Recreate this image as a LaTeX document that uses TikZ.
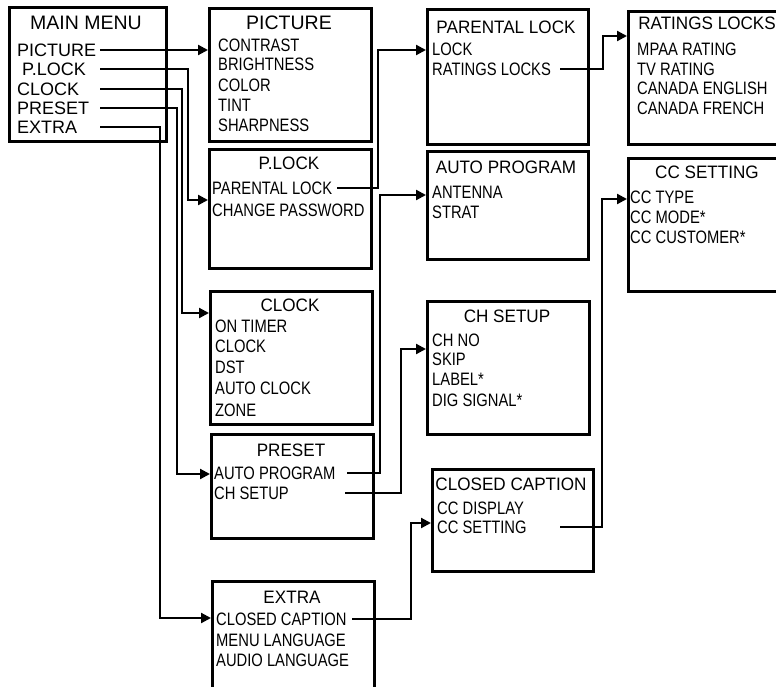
\documentclass[tikz,border=0pt]{standalone}
\usepackage{fontspec}
\setmainfont{Liberation Sans}
\newfontfamily\itemfont{Liberation Sans}[FakeStretch=0.82]
\newfontfamily\headfont{Liberation Sans}[FakeStretch=0.95]
\usetikzlibrary{arrows.meta}

\begin{document}
\begin{tikzpicture}[x=1pt, y=-1pt,
  menu/.style={draw, line width=2.6pt, anchor=north west, inner sep=0pt},
  head/.style={inner sep=0pt, font=\headfont\fontsize{18}{20}\selectfont},
  bighead/.style={inner sep=0pt, font=\fontsize{19.5}{22}\selectfont},
  entry/.style={anchor=west, inner sep=0pt, font=\itemfont\fontsize{18}{20}\selectfont},
  mainentry/.style={anchor=west, inner sep=0pt, font=\fontsize{18}{20}\selectfont},
  link/.style={-{Triangle[length=10pt, width=10pt]}, line width=2.2pt}
]
  \useasboundingbox (0,0) rectangle (776,687);
  \clip (0,0) rectangle (776,687);

  % Menu boxes
  \node[menu, minimum width=157pt, minimum height=134pt] (mm) at (8,6) {};
  \node[menu, minimum width=162pt, minimum height=133pt] (pict) at (208,7) {};
  \node[menu, minimum width=162pt, minimum height=119pt] (plock) at (208,148) {};
  \node[menu, minimum width=162pt, minimum height=133pt] (clock) at (209,290) {};
  \node[menu, minimum width=162pt, minimum height=104pt] (preset) at (210,433) {};
  \node[menu, minimum width=162pt, minimum height=130pt] (extra) at (211,580) {};
  \node[menu, minimum width=161pt, minimum height=135pt] (parental) at (426,8) {};
  \node[menu, minimum width=161pt, minimum height=108pt] (autoprog) at (426,150) {};
  \node[menu, minimum width=162pt, minimum height=133pt] (chsetup) at (426,300) {};
  \node[menu, minimum width=161pt, minimum height=102pt] (closedcap) at (431,468) {};
  \node[menu, minimum width=160pt, minimum height=133pt] (ratings) at (627,10) {};
  \node[menu, minimum width=160pt, minimum height=133pt] (ccset) at (627,157) {};

  % Main menu
  \node[bighead] (mm-t) at (86,23) {MAIN MENU};
  \node[mainentry] (mm-pic) at (17,50) {PICTURE};
  \node[mainentry] (mm-plock) at (22,69) {P.LOCK};
  \node[mainentry] (mm-clock) at (17,89) {CLOCK};
  \node[mainentry] (mm-preset) at (17,108) {PRESET};
  \node[mainentry] (mm-extra) at (17,127) {EXTRA};

  % Picture
  \node[bighead] (pict-t) at (289,23) {PICTURE};
  \node[entry] (pict-1) at (218,45) {CONTRAST};
  \node[entry] (pict-2) at (218,64) {BRIGHTNESS};
  \node[entry] (pict-3) at (218,85) {COLOR};
  \node[entry] (pict-4) at (218,105) {TINT};
  \node[entry] (pict-5) at (218,125) {SHARPNESS};

  % P.Lock
  \node[head] (plock-t) at (289,163) {P.LOCK};
  \node[entry] (plock-par) at (212,188) {PARENTAL LOCK};
  \node[entry] (plock-pw) at (212,210) {CHANGE PASSWORD};

  % Clock
  \node[head] (clock-t) at (290,305) {CLOCK};
  \node[entry] (clock-1) at (215,326) {ON TIMER};
  \node[entry] (clock-2) at (215,346) {CLOCK};
  \node[entry] (clock-3) at (215,367) {DST};
  \node[entry] (clock-4) at (215,388) {AUTO CLOCK};
  \node[entry] (clock-5) at (215,410) {ZONE};

  % Preset
  \node[head] (preset-t) at (291,450) {PRESET};
  \node[entry] (preset-auto) at (214,473) {AUTO PROGRAM};
  \node[entry] (preset-ch) at (214,493) {CH SETUP};

  % Extra
  \node[head] (extra-t) at (292,597) {EXTRA};
  \node[entry] (extra-cc) at (216,619) {CLOSED CAPTION};
  \node[entry] (extra-menu) at (216,640) {MENU LANGUAGE};
  \node[entry] (extra-audio) at (216,660) {AUDIO LANGUAGE};

  % Parental lock
  \node[head] (parental-t) at (506,27) {PARENTAL LOCK};
  \node[entry] (parental-lock) at (432,49) {LOCK};
  \node[entry] (parental-rat) at (432,69) {RATINGS LOCKS};

  % Auto program
  \node[head] (autoprog-t) at (506,167) {AUTO PROGRAM};
  \node[entry] (autoprog-ant) at (432,192) {ANTENNA};
  \node[entry] (autoprog-str) at (432,212) {STRAT};

  % CH setup
  \node[head] (chsetup-t) at (507,316) {CH SETUP};
  \node[entry] (chsetup-1) at (432,340) {CH NO};
  \node[entry] (chsetup-2) at (432,359) {SKIP};
  \node[entry] (chsetup-3) at (432,379) {LABEL*};
  \node[entry] (chsetup-4) at (432,400) {DIG SIGNAL*};

  % Closed caption
  \node[head] (closedcap-t) at (511,484) {CLOSED CAPTION};
  \node[entry] (closedcap-disp) at (437,508) {CC DISPLAY};
  \node[entry] (closedcap-set) at (437,527) {CC SETTING};

  % Ratings locks
  \node[head] (ratings-t) at (707,23) {RATINGS LOCKS};
  \node[entry] (ratings-1) at (637,49) {MPAA RATING};
  \node[entry] (ratings-2) at (637,69) {TV RATING};
  \node[entry] (ratings-3) at (637,88) {CANADA ENGLISH};
  \node[entry] (ratings-4) at (637,108) {CANADA FRENCH};

  % CC setting
  \node[head] (ccset-t) at (707,172) {CC SETTING};
  \node[entry] (ccset-1) at (630,197) {CC TYPE};
  \node[entry] (ccset-2) at (630,217) {CC MODE*};
  \node[entry] (ccset-3) at (630,237) {CC CUSTOMER*};

  % Arrows
  \draw[link] ([xshift=83pt]mm-pic.west) -- (pict.west |- mm-pic);
  \draw[link] ([xshift=78pt]mm-plock.west) -- ++(88,0) |- ([yshift=-52pt]plock.north west);
  \draw[link] ([xshift=83pt]mm-clock.west) -- ++(82,0) |- ([yshift=-23pt]clock.north west);
  \draw[link] ([xshift=83pt]mm-preset.west) -- ++(77,0) |- ([yshift=-41pt]preset.north west);
  \draw[link] ([xshift=83pt]mm-extra.west) -- ++(60,0) |- ([yshift=-38pt]extra.north west);
  \draw[link] ([xshift=125pt]plock-par.west) -- ++(41,0) |- ([yshift=-42pt]parental.north west);
  \draw[link] ([xshift=128pt]parental-rat.west) -- ++(43,0) |- ([yshift=-26pt]ratings.north west);
  \draw[link] ([xshift=133pt]preset-auto.west) -- ++(33,0) |- ([yshift=-45pt]autoprog.north west);
  \draw[link] ([xshift=131pt]preset-ch.west) -- ++(56,0) |- ([yshift=-49pt]chsetup.north west);
  \draw[link] ([xshift=123pt]closedcap-set.west) -- ++(42,0) |- ([yshift=-42pt]ccset.north west);
  \draw[link] ([xshift=136pt]extra-cc.west) -- ++(59,0) |- ([yshift=-55pt]closedcap.north west);
\end{tikzpicture}
\end{document}
